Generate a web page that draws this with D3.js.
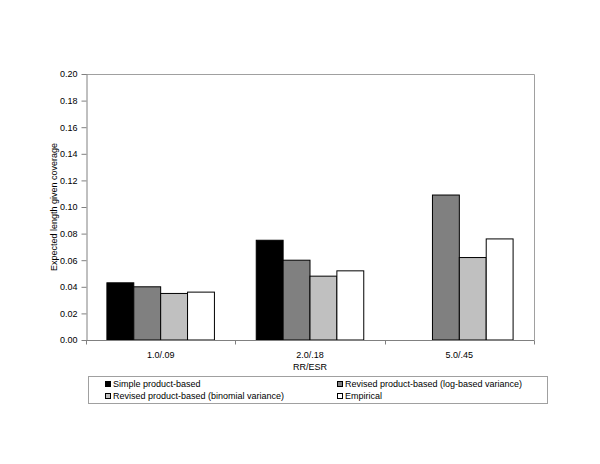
<!DOCTYPE html>
<html><head><meta charset="utf-8">
<script src="https://cdn.jsdelivr.net/npm/d3@7"></script>
<style>body{margin:0;background:#fff;} text{font-family:"Liberation Sans",Arial,sans-serif;}</style>
</head><body>
<svg id="c" width="600" height="464"></svg>
<script>
const categories = ["1.0/.09", "2.0/.18", "5.0/.45"];
const seriesNames = ["Simple product-based", "Revised product-based (log-based variance)", "Revised product-based (binomial variance)", "Empirical"];
const simpleProduct = [0.043, 0.075, null];
const revisedLog = [0.040, 0.060, 0.109];
const revisedBinomial = [0.035, 0.048, 0.062];
const empirical = [0.036, 0.052, 0.076];
const yTicks = [0, 0.02, 0.04, 0.06, 0.08, 0.10, 0.12, 0.14, 0.16, 0.18, 0.20];
const colors = ["#000000", "#808080", "#c0c0c0", "#ffffff"];

const series = [simpleProduct, revisedLog, revisedBinomial, empirical];
const svg = d3.select("#c");
const L = 86, R = 534, T = 74, B = 340;
const FS = 9;

const x = d3.scaleBand().domain(categories).range([L, R]).padding(0);
const xs = d3.scaleBand().domain(d3.range(4)).range([x.bandwidth()*0.14, x.bandwidth()*0.86]).padding(0);
const y = d3.scaleLinear().domain([0, 0.2]).range([B, T]);

// plot frame (top/right gray)
svg.append("path").attr("d", `M${L},${T+0.5}H${R+0.5}V${B}`).attr("fill","none").attr("stroke","#a0a0a0").attr("stroke-width",1);

// bars
series.forEach((s, si) => {
  svg.append("g").selectAll("rect").data(categories.map((c,i)=>({c, v:s[i]})).filter(d=>d.v!=null))
    .join("rect")
    .attr("x", d => x(d.c) + xs(si))
    .attr("width", xs.bandwidth())
    .attr("y", d => y(d.v))
    .attr("height", d => B - y(d.v))
    .attr("fill", colors[si])
    .attr("stroke", "#000").attr("stroke-width", 1);
});

// y axis
const yAxis = d3.axisLeft(y).tickValues(yTicks).tickFormat(d3.format(".2f")).tickSize(5).tickSizeOuter(0);
const gy = svg.append("g").attr("transform", `translate(${L+0.5},0)`).call(yAxis);
gy.selectAll("path,line").attr("stroke", "#808080");
gy.selectAll("text").attr("font-size", FS).attr("fill","#000").attr("x", -9);

// x axis
const gx = svg.append("g").attr("transform", `translate(0,${B+0.5})`);
gx.append("line").attr("x1", L).attr("x2", R+0.5).attr("stroke","#808080");
const bounds = [L, ...categories.map(c => x(c) + x.bandwidth())];
gx.selectAll("line.t").data(bounds).join("line").attr("class","t")
  .attr("x1", d=>Math.round(d)+0.5).attr("x2", d=>Math.round(d)+0.5).attr("y1",0).attr("y2",4).attr("stroke","#808080");
gx.selectAll("text").data(categories).join("text")
  .attr("x", d => x(d) + x.bandwidth()/2).attr("y", 17)
  .attr("text-anchor","middle").attr("font-size",FS).text(d=>d);

// axis titles
svg.append("text").attr("x", (L+R)/2).attr("y", 370).attr("text-anchor","middle").attr("font-size",FS).text("RR/ESR");
svg.append("text").attr("transform", `translate(57,${(T+B)/2}) rotate(-90)`).attr("text-anchor","middle").attr("font-size",FS).text("Expected length given coverage");

// legend
svg.append("rect").attr("x", 88.5).attr("y", 376.5).attr("width", 459).attr("height", 27).attr("fill","#fff").attr("stroke","#a0a0a0");
const lpos = [[105, 381], [337, 381], [105, 393], [337, 393]];
seriesNames.forEach((n, i) => {
  const g = svg.append("g").attr("transform", `translate(${lpos[i][0]},${lpos[i][1]})`);
  g.append("rect").attr("x",0.5).attr("y",0.5).attr("width",5).attr("height",5).attr("fill",colors[i]).attr("stroke","#000");
  g.append("text").attr("x", 8).attr("y", 6).attr("font-size",FS).text(n);
});
</script>
</body></html>
